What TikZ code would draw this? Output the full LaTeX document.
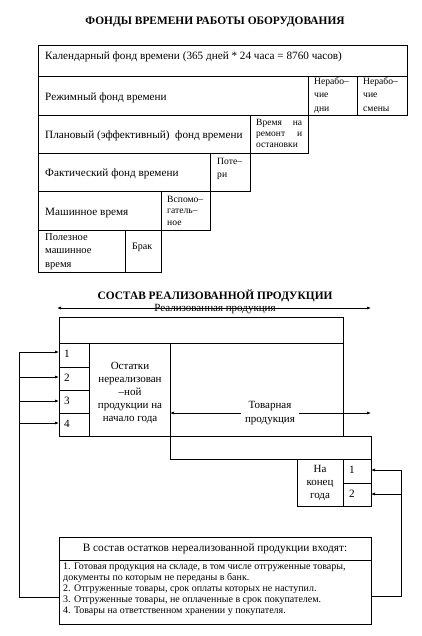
\documentclass[tikz,border=0pt]{standalone}
\usepackage{fontspec}
\setmainfont{Liberation Serif}
\usetikzlibrary{arrows.meta}
\begin{document}
\begin{tikzpicture}[x=1pt,y=-1pt,
  cellbox/.style={draw, line width=0.9pt, inner sep=0pt, outer sep=0pt, anchor=north west},
  lbl/.style={inner sep=0pt, font=\fontsize{11.2}{13}\selectfont, anchor=west},
  small/.style={inner sep=0pt, font=\fontsize{9.6}{13.5}\selectfont, align=left, anchor=north west},
  mid/.style={inner sep=0pt, font=\fontsize{11}{13.2}\selectfont, align=center},
  ttl/.style={inner sep=0pt, font=\fontsize{11.4}{13}\selectfont\bfseries},
  lst/.style={inner sep=0pt, font=\fontsize{10}{10.8}\selectfont, align=left, anchor=north west},
  wire/.style={line width=0.7pt},
  arr/.style={line width=0.7pt, -{Latex[length=4pt,width=3pt]}},
  arrb/.style={line width=0.7pt, {Latex[length=4pt,width=3pt]}-{Latex[length=4pt,width=3pt]}}
]
\useasboundingbox (0,0) rectangle (421,636);

% ---------- Title 1
\node[ttl] (t1) at (215,22) {ФОНДЫ ВРЕМЕНИ РАБОТЫ ОБОРУДОВАНИЯ};

% ---------- Table of time funds
\node[cellbox, minimum width=369pt, minimum height=31pt] (r1) at (38,45) {};
\node[cellbox, minimum width=270pt, minimum height=39pt] (r2a) at (38,76) {};
\node[cellbox, minimum width=49pt, minimum height=39pt] (r2b) at (308,76) {};
\node[cellbox, minimum width=50pt, minimum height=39pt] (r2c) at (357,76) {};
\node[cellbox, minimum width=212pt, minimum height=38pt] (r3a) at (38,115) {};
\node[cellbox, minimum width=58pt, minimum height=38pt] (r3b) at (250,115) {};
\node[cellbox, minimum width=172pt, minimum height=38pt] (r4a) at (38,153) {};
\node[cellbox, minimum width=40pt, minimum height=38pt] (r4b) at (210,153) {};
\node[cellbox, minimum width=123pt, minimum height=39pt] (r5a) at (38,191) {};
\node[cellbox, minimum width=49pt, minimum height=39pt] (r5b) at (161,191) {};
\node[cellbox, minimum width=87pt, minimum height=42pt] (r6a) at (38,230) {};
\node[cellbox, minimum width=36pt, minimum height=42pt] (r6b) at (125,230) {};

\node[lbl] (l1) at (45,57) {Календарный фонд времени (365 дней * 24 часа = 8760 часов)};
\node[lbl] (l2) at (45,98) {Режимный фонд времени};
\node[small] (l2b) at (314,77) {Нерабо–\\чие\\дни};
\node[small] (l2c) at (363,77) {Нерабо–\\чие\\смены};
\node[lbl] (l3) at (45,136) {Плановый (эффективный)\ \ фонд времени};
\node[small, text width=46pt, font=\fontsize{9.5}{11.2}\selectfont] (l3b) at (256,119) {Время\hfill на\\ремонт\hfill и\\остановки};
\node[lbl] (l4) at (45,174) {Фактический фонд времени};
\node[small, font=\fontsize{9.6}{13}\selectfont] (l4b) at (217,158) {Поте–\\ри};
\node[lbl] (l5) at (45,213) {Машинное время};
\node[small, font=\fontsize{9.6}{11.5}\selectfont] (l5b) at (167,196) {Вспомо–\\гатель–\\ное};
\node[small, font=\fontsize{10.5}{13.5}\selectfont] (l6) at (45,233) {Полезное\\машинное\\время};
\node[small, font=\fontsize{10}{12}\selectfont] (l6b) at (132,243) {Брак};

% ---------- Title 2
\node[ttl] (t2) at (215,296) {СОСТАВ РЕАЛИЗОВАННОЙ ПРОДУКЦИИ};

\coordinate (ra) at (57,308);
\coordinate (rb) at (371,308);
\draw[arrb] (ra) -- (rb);
\node[inner sep=0pt, font=\fontsize{11}{13}\selectfont] (rl) at (215,309.5) {Реализованная продукция};

% ---------- Structure boxes
\node[cellbox, minimum width=284pt, minimum height=26pt] (band) at (59,317) {};
\node[cellbox, minimum width=30pt, minimum height=24pt] (n1) at (59,343) {};
\node[cellbox, minimum width=30pt, minimum height=23pt] (n2) at (59,367) {};
\node[cellbox, minimum width=30pt, minimum height=23pt] (n3) at (59,390) {};
\node[cellbox, minimum width=30pt, minimum height=23pt] (n4) at (59,413) {};
\node[cellbox, minimum width=81pt, minimum height=93pt] (ost) at (89,343) {};
\node[cellbox, minimum width=173pt, minimum height=93pt] (tov) at (170,343) {};
\node[cellbox, minimum width=201pt, minimum height=23pt] (low) at (170,436) {};
\node[cellbox, minimum width=46pt, minimum height=47pt] (kon) at (297,459) {};
\node[cellbox, minimum width=28pt, minimum height=24pt] (k1) at (343,459) {};
\node[cellbox, minimum width=28pt, minimum height=23pt] (k2) at (343,483) {};

\node[lbl] (tn1) at (64,354) {1};
\node[lbl] (tn2) at (64,378) {2};
\node[lbl] (tn3) at (64,401) {3};
\node[lbl] (tn4) at (64,424) {4};
\node[mid] (tost) at (130,393) {Остатки\\нереализован\\–ной\\продукции на\\начало года};
\node[mid, inner xsep=4pt] (ttov) at (270,413) {Товарная\\продукция};
\draw[arr] (ttov.west) -- (tov.west |- ttov.west);
\coordinate (tr) at (371,413);
\draw[arr] (ttov.east) -- (tr);
\node[mid] (tkon) at (320,483) {На\\конец\\года};
\node[lbl] (tk1) at (349,470) {1};
\node[lbl] (tk2) at (349,494) {2};

% ---------- Bottom legend
\node[cellbox, minimum width=312pt, minimum height=23pt] (bh) at (59,537) {};
\node[cellbox, minimum width=312pt, minimum height=64pt] (bl) at (59,560) {};
\node[inner sep=0pt, font=\fontsize{11.3}{12}\selectfont] (tbh) at (215,549) {В состав остатков нереализованной продукции входят:};
\node[lst] (tbl) at (63,563) {1. Готовая продукция на складе, в том числе отгруженные товары,\\документы по которым не переданы в банк.\\2. Отгруженные товары, срок оплаты которых не наступил.\\3. Отгруженные товары, не оплаченные в срок покупателем.\\4. Товары на ответственном хранении у покупателя.};

% ---------- Feed lines
\coordinate (lj) at (59,597);
\coordinate (L1) at (19,352);
\coordinate (L2) at (19,377);
\coordinate (L3) at (19,401);
\coordinate (L4) at (19,423);
\coordinate (Lb) at (19,597);
\draw[wire] (lj) -- (Lb) -- (L1);
\draw[arr] (L1) -- (n1.west |- L1);
\draw[arr] (L2) -- (n2.west |- L2);
\draw[arr] (L3) -- (n3.west |- L3);
\draw[arr] (L4) -- (n4.west |- L4);

\coordinate (rj) at (371,596);
\coordinate (R1) at (401,470);
\coordinate (R2) at (401,494);
\coordinate (Rb) at (401,596);
\draw[wire] (rj) -- (Rb) -- (R1);
\draw[arr] (R1) -- (k1.east |- R1);
\draw[arr] (R2) -- (k2.east |- R2);
\end{tikzpicture}
\end{document}
